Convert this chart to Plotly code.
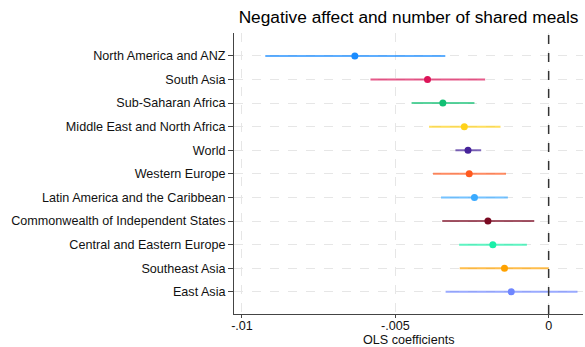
import plotly.graph_objects as go

regions = ["North America and ANZ", "South Asia", "Sub-Saharan Africa",
           "Middle East and North Africa", "World", "Western Europe",
           "Latin America and the Caribbean", "Commonwealth of Independent States",
           "Central and Eastern Europe", "Southeast Asia", "East Asia"]
coef = [-0.00632, -0.00395, -0.00345, -0.00275, -0.00263, -0.00259,
        -0.00242, -0.00198, -0.00182, -0.00144, -0.00122]
ci_low = [-0.00924, -0.00581, -0.00447, -0.00390, -0.00304, -0.00377,
          -0.00351, -0.00347, -0.00292, -0.00290, -0.00336]
ci_high = [-0.00337, -0.00207, -0.00242, -0.00157, -0.00220, -0.00139,
           -0.00133, -0.00047, -0.00071, 0.00000, 0.00094]
dot_colors = ["#1a8cff", "#dc1458", "#12c074", "#ffd21a", "#46239a", "#ff5a1f",
              "#3aaaff", "#7a0a22", "#1aefa8", "#ffa200", "#6f86ff"]
tick_vals = [-0.01, -0.005, 0]
tick_text = ["-.01", "-.005", "0"]
x_title = "OLS coefficients"


def rgba(h, a):
    h = h.lstrip("#")
    r, g, b = int(h[0:2], 16), int(h[2:4], 16), int(h[4:6], 16)
    return f"rgba({r},{g},{b},{a})"


fig = go.Figure()
for name, c, lo, hi, col in zip(regions, coef, ci_low, ci_high, dot_colors):
    fig.add_trace(go.Scatter(
        x=[c], y=[name], mode="markers",
        marker=dict(color=col, size=7),
        error_x=dict(type="data", symmetric=False, array=[hi - c], arrayminus=[c - lo],
                     width=0, thickness=2, color=rgba(col, 0.7)),
        showlegend=False, hoverinfo="x+y"))

fig.add_shape(type="line", x0=0, x1=0, y0=0, y1=1, yref="paper", xref="x",
              line=dict(color="#333333", width=1.5, dash="dash"), layer="above")

fig.add_annotation(text=x_title, x=0.5, xref="paper", y=-0.093, yref="paper",
                   xanchor="center", yanchor="middle", showarrow=False,
                   font=dict(size=12.6, color="#111111"))

fig.update_layout(
    width=585, height=347,
    margin=dict(l=234, r=2, t=33, b=33, autoexpand=False),
    paper_bgcolor="white", plot_bgcolor="white",
    font=dict(family="Liberation Sans, Arial, sans-serif", size=12.6, color="#111111"),
    title=dict(text="Negative affect and number of shared meals", x=0.5, xref="paper",
               xanchor="center", y=0.95, yanchor="middle", yref="container",
               font=dict(size=17.3, color="#000000")),
    xaxis=dict(range=[-0.01026, 0.00112], tickvals=tick_vals, ticktext=tick_text,
               showgrid=True, gridcolor="#e6e6e6", griddash="dash", gridwidth=1,
               showline=True, linecolor="#444444", linewidth=1,
               ticks="outside", ticklen=3, tickcolor="#444444",
               ticklabelstandoff=-3,
               zeroline=False, automargin=False,
               tickfont=dict(size=12.6)),
    yaxis=dict(type="category", categoryorder="array", categoryarray=regions,
               range=[10.94, -0.97],
               showgrid=True, gridcolor="#e6e6e6", griddash="dash", gridwidth=1,
               showline=True, linecolor="#444444", linewidth=1,
               ticks="outside", ticklen=5, tickcolor="#444444",
               automargin=False, tickfont=dict(size=12.6)),
)

fig.write_html("out.html", config={"displayModeBar": False},
               post_script="document.body.style.margin='0';")
